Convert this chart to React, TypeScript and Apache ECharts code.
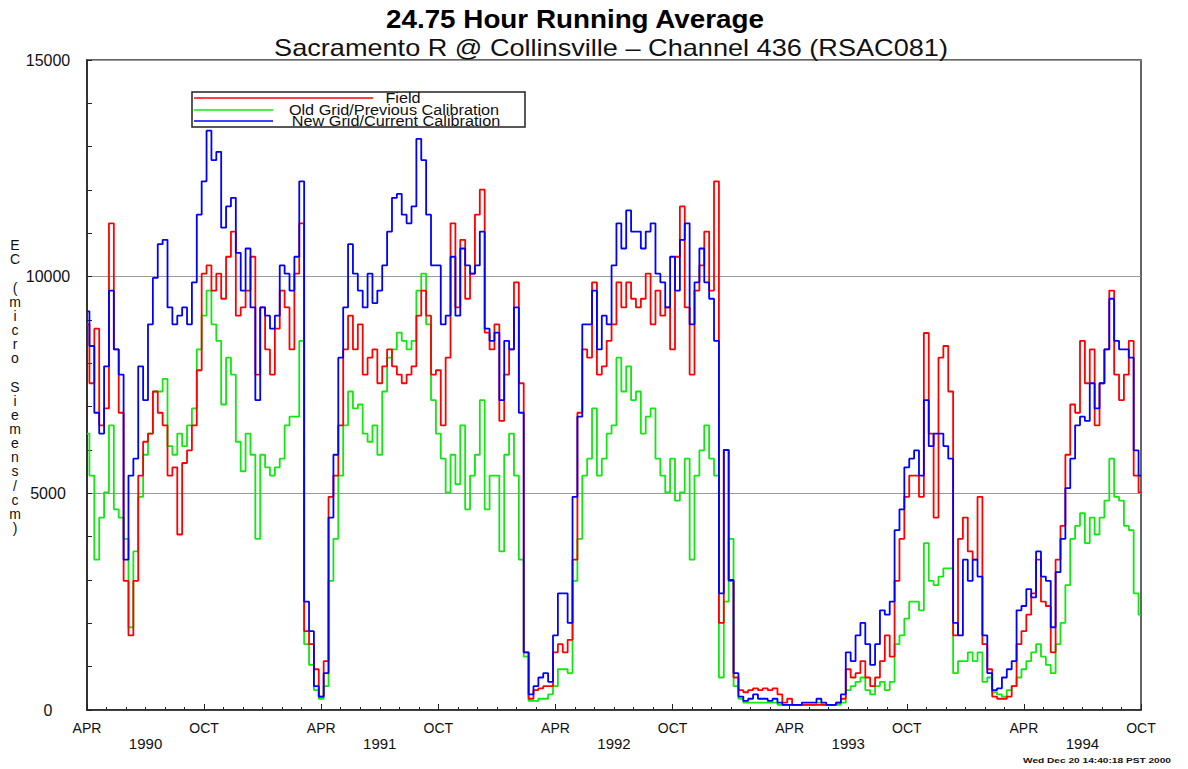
import React, { useEffect, useRef } from "react";
import * as echarts from "echarts";

// Samples every quarter month, starting APR 1990 (month 0) to OCT 1994 (month 54)
const MONTH_STEP = 0.25;

const fieldEC = [
  8900, 7540, 8800, 6570, 6960, 11230, 8320, 6860, 2980, 1720, 2980, 5410, 6190, 6380, 7350, 6860, 6570, 5410, 5600, 4050, 5700, 5990, 6570, 7840, 10070, 10260, 9680, 10070, 9490, 10460, 11040, 9100, 9290, 9680, 10460, 7740,
  9290, 8320, 7740, 8800, 9680, 9290, 8320, 10070, 11230, 1820, 1520, 940, 310, 1130, 4920, 5410, 6570, 8320, 9100, 8320, 8900, 7740, 8130, 8320, 7540, 7930, 8320, 7930, 7740, 7540, 7740, 7930, 9100, 9680, 9100, 7740,
  7840, 6570, 8130, 11230, 9290, 10850, 9490, 10070, 11430, 12010, 8710, 8320, 8900, 6670, 7740, 8320, 9870, 7540, 1330, 260, 460, 500, 550, 550, 1330, 1520, 1330, 1620, 3470, 6860, 8320, 8130, 9870, 7740, 7930, 8520,
  8900, 9870, 9290, 9870, 9490, 9290, 9490, 10070, 8900, 9680, 9100, 9290, 8320, 10460, 11620, 9290, 7740, 9680, 10260, 11040, 9680, 12200, 2010, 6000, 2980, 750, 460, 410, 460, 500, 460, 500, 460, 500, 360, 170,
  260, 120, 120, 120, 120, 120, 120, 120, 120, 120, 170, 260, 940, 750, 850, 1130, 750, 550, 750, 1130, 1720, 1230, 2980, 3950, 4920, 5410, 5410, 4920, 8700, 6380, 4440, 8130, 8400, 7350, 1720, 3950,
  4440, 3660, 3470, 4920, 1520, 940, 310, 260, 260, 310, 550, 1520, 1820, 2200, 2690, 3470, 2500, 2400, 1330, 3470, 4250, 5890, 7050, 6860, 8520, 7540, 8320, 6570, 7540, 8320, 9680, 7740, 7150, 7740, 8520, 5410, 5020,
];

const oldGridEC = [
  6380, 5410, 3470, 4440, 5020, 6570, 4630, 4440, 3950, 1910, 3660, 4920, 5890, 6380, 7350, 7350, 7640, 6090, 5890, 6380, 6090, 6570, 6960, 8320, 9100, 9680, 8900, 8520, 7050, 8130, 7740, 6190, 5510, 6380, 5890, 3950,
  5890, 5600, 5410, 5600, 5800, 6570, 6770, 6770, 8520, 1520, 1040, 460, 260, 550, 2980, 3950, 5410, 6570, 7350, 6960, 7050, 6380, 6190, 6570, 5890, 7350, 8130, 8320, 8710, 8520, 8320, 8520, 9680, 10070, 8900, 7150,
  6380, 5800, 5020, 5890, 5210, 6570, 4630, 5410, 5890, 7150, 4630, 5410, 5410, 3660, 5890, 6380, 5410, 3470, 1230, 210, 210, 260, 260, 360, 550, 940, 940, 850, 2980, 3950, 5410, 5800, 6960, 5410, 5800, 6380,
  6570, 8130, 7350, 7930, 7150, 7350, 6380, 6770, 6960, 5800, 5410, 5020, 5800, 4830, 5020, 5800, 3470, 5410, 5990, 6570, 5800, 5410, 750, 2500, 3950, 550, 260, 170, 170, 170, 170, 170, 170, 170, 120, 120,
  120, 120, 120, 120, 120, 120, 170, 120, 120, 120, 120, 170, 460, 550, 650, 750, 460, 360, 550, 650, 460, 650, 1520, 1720, 2110, 2500, 2500, 2300, 3850, 2980, 2880, 3080, 3270, 3270, 850, 1130,
  1130, 1330, 1130, 1330, 650, 750, 410, 360, 310, 460, 550, 750, 940, 1130, 1330, 1520, 1230, 1040, 850, 1520, 2010, 2880, 3950, 4250, 4540, 3850, 4440, 4050, 4440, 4830, 5800, 4920, 4830, 4250, 4150, 2690, 2200,
];

const newGridEC = [
  9200, 8400, 6860, 6380, 7930, 9680, 8320, 7740, 3470, 5410, 5800, 7930, 7150, 8900, 9970, 10750, 10850, 9290, 8900, 9100, 9290, 8900, 9870, 11430, 12200, 13370, 12690, 12880, 11130, 11620, 11820, 10550, 9680, 10650, 9290, 7150,
  9290, 9100, 8800, 9100, 10260, 10070, 9680, 10460, 12200, 2500, 1820, 550, 310, 850, 4440, 5890, 8130, 9290, 10750, 10070, 9680, 9290, 10070, 9390, 9680, 10260, 11040, 11820, 11910, 11430, 11230, 11620, 13180, 12690, 11430, 10260,
  10260, 8900, 9100, 10460, 9100, 10650, 10260, 10070, 10260, 11040, 8800, 8520, 8710, 7150, 8520, 8320, 9290, 6860, 1330, 360, 550, 750, 850, 650, 1720, 2690, 2690, 2010, 4920, 6770, 8900, 8900, 9680, 8320, 9100, 8900,
  10260, 11230, 10650, 11530, 11040, 11040, 10650, 11040, 11230, 10070, 9870, 9290, 10460, 9680, 10850, 11230, 8900, 9870, 10650, 9870, 9490, 8520, 2690, 6000, 3000, 850, 310, 210, 260, 360, 260, 260, 210, 260, 170, 120,
  120, 120, 120, 170, 170, 170, 260, 170, 120, 120, 170, 360, 1330, 1130, 1720, 2010, 1520, 1040, 1520, 2300, 2200, 2500, 4150, 4630, 5600, 5800, 5990, 5410, 7150, 6090, 6380, 6380, 6090, 5800, 2010, 1720,
  3470, 2980, 3470, 3080, 1720, 850, 460, 500, 750, 940, 1130, 2300, 2400, 2790, 2600, 3660, 3080, 2980, 1910, 3180, 3950, 5120, 5800, 6570, 6770, 6670, 7540, 6960, 7540, 8320, 9490, 8520, 8320, 8320, 8130, 5990, 5410,
];

const seasonLabels = ["APR", "OCT"];
const yearLabels = ["1990", "1991", "1992", "1993", "1994"];
const seriesNames = ["Field", "Old Grid/Previous Calibration", "New Grid/Current Calibration"];
const seriesColors = ["#ff0000", "#10e810", "#0000ff"];
const titleText = "24.75 Hour Running Average";
const subtitleText = "Sacramento R @ Collinsville \u2013 Channel 436 (RSAC081)";
const yAxisName = "EC (micro Siemens/cm)";
const stampText = "Wed Dec 20 14:40:18 PST 2000";

const FONT = "'Liberation Sans', Arial, Helvetica, sans-serif";

const toPairs = (arr: number[]) => arr.map((v, i) => [i * MONTH_STEP, v]);

export default function App() {
  const ref = useRef<HTMLDivElement>(null);

  useEffect(() => {
    if (!ref.current) return;
    const chart = echarts.init(ref.current, undefined, { renderer: "svg" });

    const lineSeries = (name: string, data: number[], color: string) => ({
      name,
      type: "line",
      data: toPairs(data),
      step: "middle",
      showSymbol: false,
      symbol: "none",
      lineStyle: { color, width: 1.8 },
      itemStyle: { color },
    });

    const legendRows = [
      { y: 98, lineEnd: 373, textX: 403 },
      { y: 110, lineEnd: 273, textX: 394 },
      { y: 121, lineEnd: 273, textX: 396 },
    ];

    const legendEls: any[] = [
      {
        type: "rect",
        shape: { x: 192, y: 92, width: 333, height: 35 },
        style: { fill: "#ffffff", stroke: "#222", lineWidth: 1.5 },
        z: 100,
      },
    ];
    legendRows.forEach((row, k) => {
      legendEls.push({
        type: "line",
        shape: { x1: 194, y1: row.y, x2: row.lineEnd, y2: row.y },
        style: { stroke: seriesColors[k], lineWidth: 1.3 },
        z: 101,
      });
      legendEls.push({
        type: "text",
        x: row.textX,
        y: row.y,
        scaleX: 1.16,
        style: {
          text: seriesNames[k],
          fontSize: 14,
          fontFamily: FONT,
          fill: "#111",
          textAlign: "center",
          textVerticalAlign: "middle",
        },
        z: 101,
      });
    });

    const yNameStacked = yAxisName.split("").join("\n");

    chart.setOption({
      animation: false,
      backgroundColor: "#ffffff",
      grid: {
        left: 87,
        right: 47,
        top: 60,
        bottom: 59,
        show: true,
        borderColor: "#333",
        borderWidth: 1.5,
      },
      xAxis: [
        {
          type: "value",
          min: 0,
          max: 54,
          interval: 6,
          axisLine: { show: true, lineStyle: { color: "#222", width: 1.5 } },
          axisTick: { show: true, inside: true, length: 6, lineStyle: { color: "#222" } },
          minorTick: { show: true, splitNumber: 6, length: 3, lineStyle: { color: "#222" } },
          splitLine: { show: false },
          axisLabel: {
            margin: 11,
            fontSize: 14,
            fontFamily: FONT,
            color: "#111",
            formatter: (v: number) => seasonLabels[Math.round(v / 6) % 2],
          },
        },
        {
          type: "value",
          min: 0,
          max: 54,
          interval: 3,
          position: "bottom",
          axisLine: { show: false },
          axisTick: { show: false },
          splitLine: { show: false },
          axisLabel: {
            margin: 26,
            fontSize: 15,
            fontFamily: FONT,
            color: "#111",
            formatter: (v: number) => {
              const m = Math.round(v);
              if (m % 12 !== 3) return "";
              return yearLabels[(m - 3) / 12] ?? "";
            },
          },
        },
      ],
      yAxis: {
        type: "value",
        min: 0,
        max: 15000,
        interval: 5000,
        axisLine: { show: true, lineStyle: { color: "#222", width: 1.5 } },
        axisTick: { show: true, inside: true, length: 5, lineStyle: { color: "#222" } },
        minorTick: { show: true, splitNumber: 5, length: 5, lineStyle: { color: "#222" } },
        splitLine: { show: true, lineStyle: { color: "#9a9a9a", width: 1 } },
        axisLabel: {
          margin: 39,
          align: "center",
          fontSize: 16,
          fontFamily: FONT,
          color: "#111",
          formatter: (v: number) => String(v),
        },
      },
      series: [
        lineSeries(seriesNames[1], oldGridEC, seriesColors[1]),
        lineSeries(seriesNames[0], fieldEC, seriesColors[0]),
        lineSeries(seriesNames[2], newGridEC, seriesColors[2]),
      ],
      graphic: [
        {
          type: "text",
          x: 575,
          y: 19,
          scaleX: 1.07,
          style: {
            text: titleText,
            fontSize: 26,
            fontWeight: "bold",
            fontFamily: FONT,
            fill: "#000",
            textAlign: "center",
            textVerticalAlign: "middle",
          },
          z: 100,
        },
        {
          type: "text",
          x: 611,
          y: 48,
          scaleX: 1.13,
          style: {
            text: subtitleText,
            fontSize: 24,
            fontFamily: FONT,
            fill: "#111",
            textAlign: "center",
            textVerticalAlign: "middle",
          },
          z: 100,
        },
        {
          type: "text",
          x: 15,
          y: 238,
          style: {
            text: yNameStacked,
            fontSize: 14,
            lineHeight: 14.15,
            fontFamily: FONT,
            fill: "#111",
            textAlign: "center",
            textVerticalAlign: "top",
          },
          z: 100,
        },
        {
          type: "text",
          x: 1023,
          y: 761,
          scaleX: 1.45,
          style: {
            text: stampText,
            fontSize: 7,
            fontWeight: "bold",
            fontFamily: FONT,
            fill: "#111",
            textAlign: "left",
            textVerticalAlign: "middle",
          },
          z: 100,
        },
        ...legendEls,
      ],
    });

    return () => chart.dispose();
  }, []);

  return (
    <div
      ref={ref}
      style={{ position: "absolute", left: 0, top: 0, width: 1188, height: 769, background: "#fff" }}
    />
  );
}
